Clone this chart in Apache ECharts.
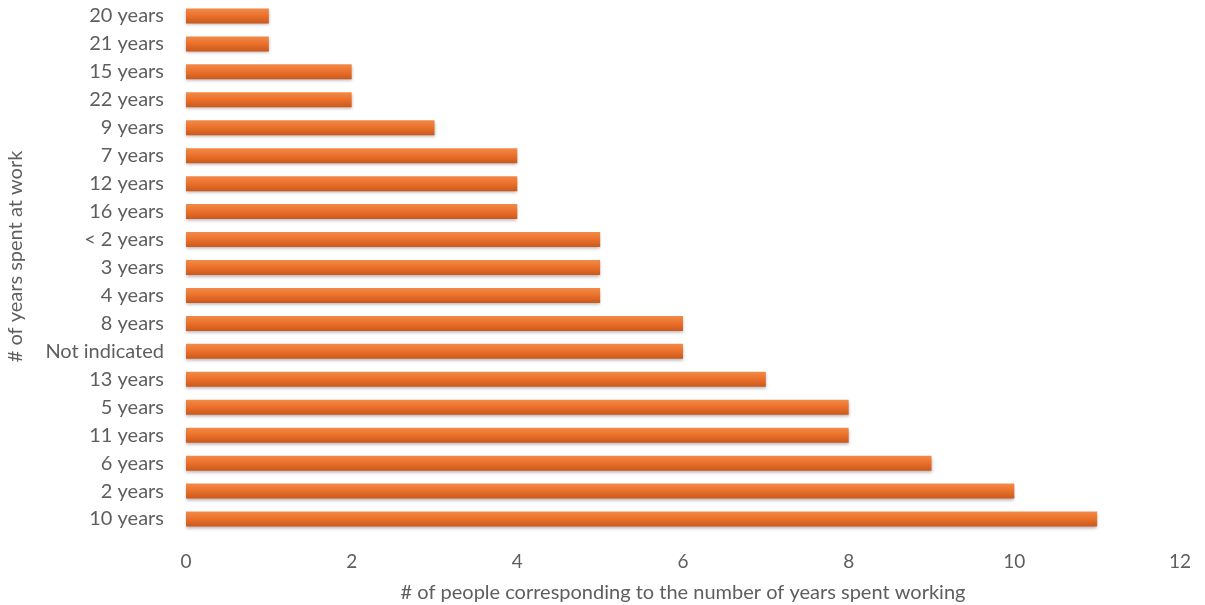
<!DOCTYPE html>
<html>
<head>
<meta charset="utf-8">
<script src="https://cdn.jsdelivr.net/npm/echarts@6/dist/echarts.min.js"></script>
<style>
  html, body { margin: 0; padding: 0; background: #ffffff; }
  #chart { width: 1205px; height: 605px; }
</style>
</head>
<body>
<div id="chart"></div>
<script>
// Categories listed top to bottom
const categories = [
  '20 years', '21 years', '15 years', '22 years', '9 years', '7 years',
  '12 years', '16 years', '< 2 years', '3 years', '4 years', '8 years',
  'Not indicated', '13 years', '5 years', '11 years', '6 years', '2 years', '10 years'
];
// Number of people per category
const peopleCounts = [1, 1, 2, 2, 3, 4, 4, 4, 5, 5, 5, 6, 6, 7, 8, 8, 9, 10, 11];

const xMin = 0;
const xMax = 12;
const xStep = 2;

const xAxisTitle = '# of people corresponding to the number of years spent working';
const yAxisTitle = '# of years spent at work';

const textColor = '#5e5e5e';
const fontFamily = 'Lato, "Open Sans", sans-serif';

const chart = echarts.init(document.getElementById('chart'));
chart.setOption({
  animation: false,
  backgroundColor: '#ffffff',
  grid: {
    left: 186, right: 25, top: 2, bottom: 72,
    containLabel: false,
    outerBoundsMode: 'none'
  },
  xAxis: {
    type: 'value',
    min: xMin,
    max: xMax,
    interval: xStep,
    axisLine: { show: false },
    axisTick: { show: false },
    splitLine: { show: false },
    axisLabel: { color: textColor, fontSize: 19, fontFamily: fontFamily, margin: 19 },
    name: xAxisTitle,
    nameLocation: 'middle',
    nameGap: 50,
    nameTextStyle: { color: textColor, fontSize: 20, fontFamily: fontFamily }
  },
  yAxis: {
    type: 'category',
    data: categories,
    inverse: true,
    axisLine: { show: false },
    axisTick: { show: false },
    splitLine: { show: false },
    axisLabel: { color: textColor, fontSize: 20, fontFamily: fontFamily, margin: 22 },
    name: yAxisTitle,
    nameLocation: 'middle',
    nameGap: 160,
    nameRotate: 90,
    nameTextStyle: {
      color: textColor, fontSize: 20, fontFamily: fontFamily,
      padding: [0, 0, 0, 22]
    }
  },
  series: [{
    type: 'bar',
    data: peopleCounts,
    barWidth: 15,
    itemStyle: {
      color: new echarts.graphic.LinearGradient(0, 0, 0, 1, [
        { offset: 0, color: '#f28a48' },
        { offset: 0.5, color: '#ea702a' },
        { offset: 1, color: '#c9591c' }
      ]),
      shadowColor: 'rgba(60, 40, 60, 0.35)',
      shadowBlur: 3,
      shadowOffsetY: 2
    }
  }]
});
</script>
</body>
</html>
